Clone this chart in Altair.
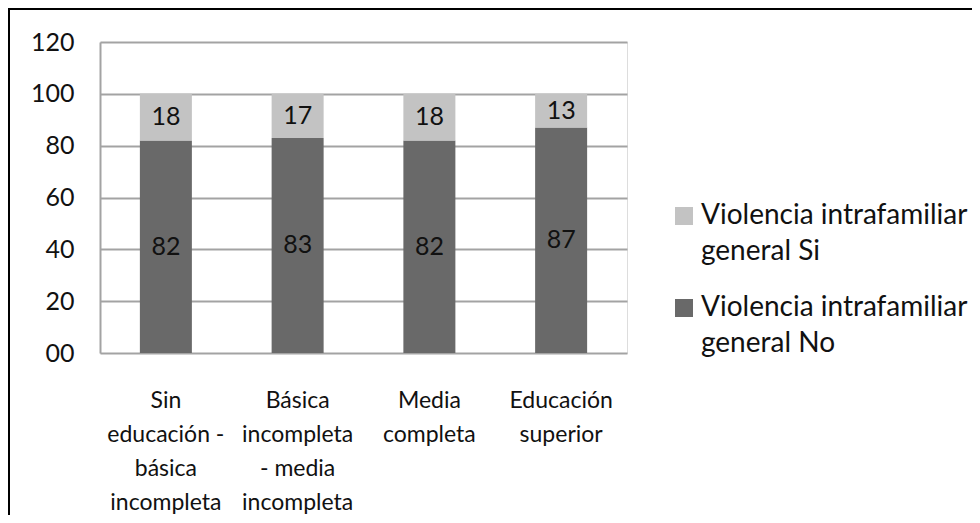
import altair as alt
import pandas as pd

categories = [
    "Sin\neducación -\nbásica\nincompleta",
    "Básica\nincompleta\n- media\nincompleta",
    "Media\ncompleta",
    "Educación\nsuperior",
]
series_si = "Violencia intrafamiliar\ngeneral Si"
series_no = "Violencia intrafamiliar\ngeneral No"
values_no = [82, 83, 82, 87]
values_si = [18, 17, 18, 13]
y_ticks = [0, 20, 40, 60, 80, 100, 120]

rows = []
for i, c in enumerate(categories):
    n = values_no[i]
    s = values_si[i]
    rows.append({"cat": c, "serie": series_no, "value": n, "start": 0, "end": n, "mid": n / 2, "order": i})
    rows.append({"cat": c, "serie": series_si, "value": s, "start": n, "end": n + s, "mid": n + s / 2, "order": i})
df = pd.DataFrame(rows)

FONT = "Lato"
LIGHT = "#c3c3c3"
DARK = "#696969"
GRID = "#a3a3a3"

x_enc = alt.X(
    "cat:N",
    sort=categories,
    scale=alt.Scale(paddingInner=0.605, paddingOuter=0.3025),
    axis=alt.Axis(
        title=None,
        labelAngle=0,
        labelExpr="split(datum.label, '\\n')",
        labelFont=FONT,
        labelFontSize=23,
        labelLineHeight=34,
        labelColor="#111111",
        labelPadding=36,
        labelLimit=400,
        ticks=False,
        domain=False,
        grid=False,
    ),
)

y_scale = alt.Scale(domain=[0, 120], nice=False)

bars = alt.Chart(df).mark_bar(size=52).encode(
    x=x_enc,
    y=alt.Y(
        "start:Q",
        scale=y_scale,
        axis=alt.Axis(
            title=None,
            values=y_ticks,
            labelExpr="datum.value == 0 ? '00' : datum.label",
            labelFont=FONT,
            labelFontSize=25,
            labelColor="#111111",
            labelPadding=26,
            ticks=False,
            domain=True,
            domainColor=GRID,
            domainWidth=2,
            grid=True,
            gridColor=GRID,
            gridWidth=2,
        ),
    ),
    y2="end:Q",
    color=alt.Color(
        "serie:N",
        scale=alt.Scale(domain=[series_si, series_no], range=[LIGHT, DARK]),
        legend=alt.Legend(
            title=None,
            orient="none",
            legendX=570,
            legendY=160,
            padding=0,
            labelExpr="split(datum.label, '\\n')",
            labelFont=FONT,
            labelFontSize=28,
            labelColor="#111111",
            labelLimit=400,
            labelOffset=3,
            symbolType="square",
            symbolSize=324,
            symbolStrokeWidth=0,
            symbolOpacity=1,
            rowPadding=28,
        ),
    ),
)

labels = alt.Chart(df).mark_text(font=FONT, fontSize=25, color="#111111", baseline="middle").encode(
    x=alt.X("cat:N", sort=categories),
    y=alt.Y("mid:Q", scale=y_scale),
    text=alt.Text("value:Q"),
)

frame_df = pd.DataFrame({"a": [0]})
frame_top = alt.Chart(frame_df).mark_rule(color="#000000", strokeWidth=2).encode(
    x=alt.value(-92), x2=alt.value(872), y=alt.value(-33)
)
frame_left = alt.Chart(frame_df).mark_rule(color="#000000", strokeWidth=2).encode(
    x=alt.value(-91), y=alt.value(-33), y2=alt.value(480)
)

chart = (
    alt.layer(bars, labels, frame_top, frame_left)
    .properties(
        width=527,
        height=311,
        autosize=alt.AutoSizeParams(type="none"),
        padding={"left": 92, "top": 34, "right": 345, "bottom": 162},
    )
    .configure_view(stroke=None)
    .configure(background="#ffffff", style={"guide-label": {"lineHeight": 36}})
)

chart.save("out.html", embed_options={"renderer": "svg", "actions": False})
